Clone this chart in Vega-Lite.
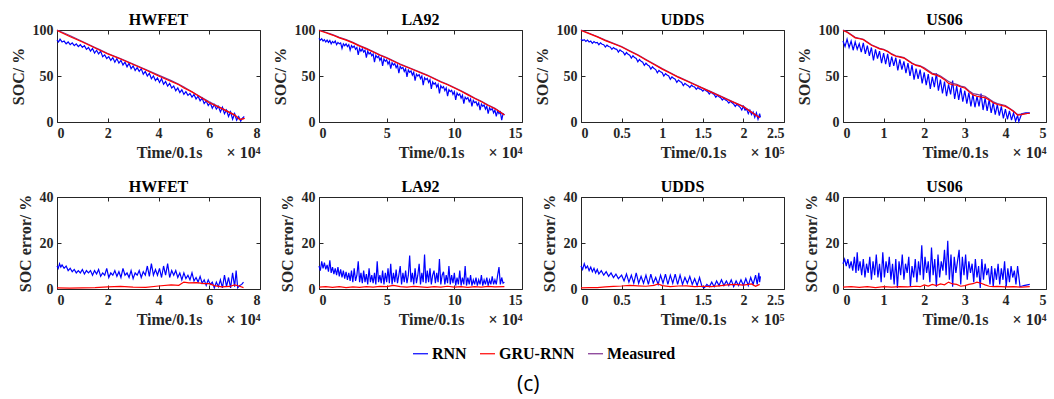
{
  "$schema": "https://vega.github.io/schema/vega-lite/v6.json",
  "padding": {"left": 9, "top": 11, "right": 5, "bottom": 5},
  "background": "white",
  "config": {
    "font": "Liberation Serif",
    "view": {"stroke": "#262626", "strokeWidth": 1},
    "axis": {"grid": false, "domain": false, "tickColor": "#262626", "tickSize": -4, "labelPadding": 8, "labelFont": "Liberation Serif", "labelFontWeight": "bold", "labelFontSize": 14, "labelColor": "#262626", "titleFont": "Liberation Serif", "titleFontWeight": "bold", "titleFontSize": 16, "titleColor": "#262626", "format": ".2~f"},
    "axisX": {"titleAnchor": "end", "titlePadding": 4},
    "axisY": {"titlePadding": 6},
    "title": {"font": "Liberation Serif", "fontSize": 16, "fontWeight": "bold", "color": "black", "offset": -5},
    "line": {"strokeWidth": 1.2},
    "legend": {"orient": "none", "legendX": 355, "legendY": 315, "direction": "horizontal", "title": null, "symbolType": "stroke", "symbolSize": 225, "symbolStrokeWidth": 1.5, "labelFont": "Liberation Serif", "labelFontSize": 16, "labelFontWeight": "bold", "labelColor": "black", "columnPadding": 10, "labelOffset": 3}
  },
  "title": {"text": "(c)", "orient": "bottom", "anchor": "middle", "font": "Open Sans", "fontWeight": "normal", "fontSize": 21, "color": "black", "offset": 12, "frame": "bounds"},
  "datasets": {
    "soc": [
      {"p":"HWFET","s":"RNN","x":0,"y":89},{"p":"HWFET","s":"RNN","x":0.06,"y":87},{"p":"HWFET","s":"RNN","x":0.12,"y":90},{"p":"HWFET","s":"RNN","x":0.2,"y":87},{"p":"HWFET","s":"RNN","x":0.28,"y":88},{"p":"HWFET","s":"RNN","x":0.36,"y":85},{"p":"HWFET","s":"RNN","x":0.44,"y":87},{"p":"HWFET","s":"RNN","x":0.52,"y":84},{"p":"HWFET","s":"RNN","x":0.6,"y":86},{"p":"HWFET","s":"RNN","x":0.68,"y":83},{"p":"HWFET","s":"RNN","x":0.76,"y":85},{"p":"HWFET","s":"RNN","x":0.84,"y":82},{"p":"HWFET","s":"RNN","x":0.92,"y":84},{"p":"HWFET","s":"RNN","x":1.0,"y":81},{"p":"HWFET","s":"RNN","x":1.08,"y":83},{"p":"HWFET","s":"RNN","x":1.16,"y":79},{"p":"HWFET","s":"RNN","x":1.24,"y":81},{"p":"HWFET","s":"RNN","x":1.32,"y":77},{"p":"HWFET","s":"RNN","x":1.4,"y":80},{"p":"HWFET","s":"RNN","x":1.48,"y":75},{"p":"HWFET","s":"RNN","x":1.56,"y":78},{"p":"HWFET","s":"RNN","x":1.64,"y":74},{"p":"HWFET","s":"RNN","x":1.72,"y":77},{"p":"HWFET","s":"RNN","x":1.8,"y":71},{"p":"HWFET","s":"RNN","x":1.88,"y":73},{"p":"HWFET","s":"RNN","x":1.96,"y":69},{"p":"HWFET","s":"RNN","x":2.04,"y":71},{"p":"HWFET","s":"RNN","x":2.12,"y":67},{"p":"HWFET","s":"RNN","x":2.2,"y":70},{"p":"HWFET","s":"RNN","x":2.28,"y":65},{"p":"HWFET","s":"RNN","x":2.36,"y":69},{"p":"HWFET","s":"RNN","x":2.44,"y":64},{"p":"HWFET","s":"RNN","x":2.52,"y":67},{"p":"HWFET","s":"RNN","x":2.6,"y":62},{"p":"HWFET","s":"RNN","x":2.68,"y":65},{"p":"HWFET","s":"RNN","x":2.76,"y":60},{"p":"HWFET","s":"RNN","x":2.84,"y":64},{"p":"HWFET","s":"RNN","x":2.92,"y":58},{"p":"HWFET","s":"RNN","x":3.0,"y":61},{"p":"HWFET","s":"RNN","x":3.08,"y":56},{"p":"HWFET","s":"RNN","x":3.16,"y":59},{"p":"HWFET","s":"RNN","x":3.24,"y":55},{"p":"HWFET","s":"RNN","x":3.32,"y":58},{"p":"HWFET","s":"RNN","x":3.4,"y":52},{"p":"HWFET","s":"RNN","x":3.48,"y":55},{"p":"HWFET","s":"RNN","x":3.56,"y":50},{"p":"HWFET","s":"RNN","x":3.64,"y":53},{"p":"HWFET","s":"RNN","x":3.72,"y":47},{"p":"HWFET","s":"RNN","x":3.8,"y":50},{"p":"HWFET","s":"RNN","x":3.88,"y":45},{"p":"HWFET","s":"RNN","x":3.96,"y":48},{"p":"HWFET","s":"RNN","x":4.04,"y":43},{"p":"HWFET","s":"RNN","x":4.12,"y":47},{"p":"HWFET","s":"RNN","x":4.2,"y":41},{"p":"HWFET","s":"RNN","x":4.28,"y":44},{"p":"HWFET","s":"RNN","x":4.36,"y":39},{"p":"HWFET","s":"RNN","x":4.44,"y":42},{"p":"HWFET","s":"RNN","x":4.52,"y":37},{"p":"HWFET","s":"RNN","x":4.6,"y":39},{"p":"HWFET","s":"RNN","x":4.68,"y":34},{"p":"HWFET","s":"RNN","x":4.76,"y":37},{"p":"HWFET","s":"RNN","x":4.84,"y":32},{"p":"HWFET","s":"RNN","x":4.92,"y":35},{"p":"HWFET","s":"RNN","x":5.0,"y":30},{"p":"HWFET","s":"RNN","x":5.08,"y":33},{"p":"HWFET","s":"RNN","x":5.16,"y":29},{"p":"HWFET","s":"RNN","x":5.24,"y":31},{"p":"HWFET","s":"RNN","x":5.32,"y":27},{"p":"HWFET","s":"RNN","x":5.4,"y":30},{"p":"HWFET","s":"RNN","x":5.48,"y":25},{"p":"HWFET","s":"RNN","x":5.56,"y":28},{"p":"HWFET","s":"RNN","x":5.64,"y":23},{"p":"HWFET","s":"RNN","x":5.72,"y":26},{"p":"HWFET","s":"RNN","x":5.8,"y":20},{"p":"HWFET","s":"RNN","x":5.88,"y":23},{"p":"HWFET","s":"RNN","x":5.96,"y":18},{"p":"HWFET","s":"RNN","x":6.04,"y":21},{"p":"HWFET","s":"RNN","x":6.12,"y":15},{"p":"HWFET","s":"RNN","x":6.2,"y":19},{"p":"HWFET","s":"RNN","x":6.28,"y":14},{"p":"HWFET","s":"RNN","x":6.36,"y":17},{"p":"HWFET","s":"RNN","x":6.44,"y":11},{"p":"HWFET","s":"RNN","x":6.52,"y":16},{"p":"HWFET","s":"RNN","x":6.6,"y":9},{"p":"HWFET","s":"RNN","x":6.68,"y":13},{"p":"HWFET","s":"RNN","x":6.76,"y":6},{"p":"HWFET","s":"RNN","x":6.84,"y":11},{"p":"HWFET","s":"RNN","x":6.92,"y":3},{"p":"HWFET","s":"RNN","x":7.0,"y":9},{"p":"HWFET","s":"RNN","x":7.08,"y":2},{"p":"HWFET","s":"RNN","x":7.16,"y":6},{"p":"HWFET","s":"RNN","x":7.24,"y":1},{"p":"HWFET","s":"RNN","x":7.3,"y":4},{"p":"HWFET","s":"RNN","x":7.38,"y":6},
      {"p":"HWFET","s":"Measured","x":0,"y":100},{"p":"HWFET","s":"Measured","x":0.5,"y":94},{"p":"HWFET","s":"Measured","x":1,"y":87.5},{"p":"HWFET","s":"Measured","x":1.5,"y":81},{"p":"HWFET","s":"Measured","x":1.7,"y":78.5},{"p":"HWFET","s":"Measured","x":2,"y":74.5},{"p":"HWFET","s":"Measured","x":2.5,"y":69},{"p":"HWFET","s":"Measured","x":3,"y":63},{"p":"HWFET","s":"Measured","x":3.5,"y":57},{"p":"HWFET","s":"Measured","x":4,"y":51},{"p":"HWFET","s":"Measured","x":4.5,"y":45},{"p":"HWFET","s":"Measured","x":4.8,"y":41},{"p":"HWFET","s":"Measured","x":5,"y":38},{"p":"HWFET","s":"Measured","x":5.5,"y":30},{"p":"HWFET","s":"Measured","x":6,"y":22},{"p":"HWFET","s":"Measured","x":6.5,"y":15},{"p":"HWFET","s":"Measured","x":7,"y":8},{"p":"HWFET","s":"Measured","x":7.2,"y":3},{"p":"HWFET","s":"Measured","x":7.35,"y":3.5},
      {"p":"HWFET","s":"GRU-RNN","x":0,"y":99.5},{"p":"HWFET","s":"GRU-RNN","x":0.5,"y":93},{"p":"HWFET","s":"GRU-RNN","x":1,"y":87},{"p":"HWFET","s":"GRU-RNN","x":1.5,"y":80.5},{"p":"HWFET","s":"GRU-RNN","x":2,"y":74},{"p":"HWFET","s":"GRU-RNN","x":2.5,"y":68.5},{"p":"HWFET","s":"GRU-RNN","x":3,"y":62.5},{"p":"HWFET","s":"GRU-RNN","x":3.5,"y":56.5},{"p":"HWFET","s":"GRU-RNN","x":4,"y":50},{"p":"HWFET","s":"GRU-RNN","x":4.5,"y":44},{"p":"HWFET","s":"GRU-RNN","x":4.8,"y":40.5},{"p":"HWFET","s":"GRU-RNN","x":5,"y":37},{"p":"HWFET","s":"GRU-RNN","x":5.3,"y":33},{"p":"HWFET","s":"GRU-RNN","x":5.5,"y":29.5},{"p":"HWFET","s":"GRU-RNN","x":6,"y":21},{"p":"HWFET","s":"GRU-RNN","x":6.5,"y":14.5},{"p":"HWFET","s":"GRU-RNN","x":7,"y":7.5},{"p":"HWFET","s":"GRU-RNN","x":7.2,"y":2.5},{"p":"HWFET","s":"GRU-RNN","x":7.4,"y":4},

      {"p":"LA92","s":"RNN","x":0,"y":91},{"p":"LA92","s":"RNN","x":0.1,"y":89},{"p":"LA92","s":"RNN","x":0.2,"y":90.5},{"p":"LA92","s":"RNN","x":0.3,"y":88},{"p":"LA92","s":"RNN","x":0.4,"y":89.5},{"p":"LA92","s":"RNN","x":0.5,"y":87},{"p":"LA92","s":"RNN","x":0.6,"y":89},{"p":"LA92","s":"RNN","x":0.7,"y":86.5},{"p":"LA92","s":"RNN","x":0.8,"y":88.5},{"p":"LA92","s":"RNN","x":0.9,"y":85},{"p":"LA92","s":"RNN","x":1.0,"y":87.5},{"p":"LA92","s":"RNN","x":1.1,"y":86},{"p":"LA92","s":"RNN","x":1.2,"y":88},{"p":"LA92","s":"RNN","x":1.3,"y":84},{"p":"LA92","s":"RNN","x":1.4,"y":86.5},{"p":"LA92","s":"RNN","x":1.5,"y":85},{"p":"LA92","s":"RNN","x":1.6,"y":86},{"p":"LA92","s":"RNN","x":1.7,"y":80},{"p":"LA92","s":"RNN","x":1.8,"y":85},{"p":"LA92","s":"RNN","x":1.9,"y":83},{"p":"LA92","s":"RNN","x":2.0,"y":85},{"p":"LA92","s":"RNN","x":2.1,"y":82},{"p":"LA92","s":"RNN","x":2.2,"y":84},{"p":"LA92","s":"RNN","x":2.3,"y":78},{"p":"LA92","s":"RNN","x":2.4,"y":83},{"p":"LA92","s":"RNN","x":2.5,"y":81},{"p":"LA92","s":"RNN","x":2.6,"y":82.5},{"p":"LA92","s":"RNN","x":2.7,"y":79},{"p":"LA92","s":"RNN","x":2.8,"y":81},{"p":"LA92","s":"RNN","x":2.9,"y":73},{"p":"LA92","s":"RNN","x":3.0,"y":80},{"p":"LA92","s":"RNN","x":3.1,"y":77},{"p":"LA92","s":"RNN","x":3.2,"y":79.5},{"p":"LA92","s":"RNN","x":3.3,"y":76},{"p":"LA92","s":"RNN","x":3.4,"y":78},{"p":"LA92","s":"RNN","x":3.5,"y":70},{"p":"LA92","s":"RNN","x":3.6,"y":77},{"p":"LA92","s":"RNN","x":3.7,"y":74},{"p":"LA92","s":"RNN","x":3.8,"y":75.5},{"p":"LA92","s":"RNN","x":3.9,"y":72},{"p":"LA92","s":"RNN","x":4.0,"y":74},{"p":"LA92","s":"RNN","x":4.1,"y":65},{"p":"LA92","s":"RNN","x":4.2,"y":72.5},{"p":"LA92","s":"RNN","x":4.3,"y":70},{"p":"LA92","s":"RNN","x":4.4,"y":71.5},{"p":"LA92","s":"RNN","x":4.5,"y":67},{"p":"LA92","s":"RNN","x":4.6,"y":70},{"p":"LA92","s":"RNN","x":4.7,"y":61},{"p":"LA92","s":"RNN","x":4.8,"y":68.5},{"p":"LA92","s":"RNN","x":4.9,"y":66},{"p":"LA92","s":"RNN","x":5.0,"y":67.5},{"p":"LA92","s":"RNN","x":5.1,"y":63},{"p":"LA92","s":"RNN","x":5.2,"y":66},{"p":"LA92","s":"RNN","x":5.3,"y":58},{"p":"LA92","s":"RNN","x":5.4,"y":64.5},{"p":"LA92","s":"RNN","x":5.5,"y":62},{"p":"LA92","s":"RNN","x":5.6,"y":63.5},{"p":"LA92","s":"RNN","x":5.7,"y":59},{"p":"LA92","s":"RNN","x":5.8,"y":62},{"p":"LA92","s":"RNN","x":5.9,"y":53},{"p":"LA92","s":"RNN","x":6.0,"y":60.5},{"p":"LA92","s":"RNN","x":6.1,"y":58},{"p":"LA92","s":"RNN","x":6.2,"y":59.5},{"p":"LA92","s":"RNN","x":6.3,"y":55},{"p":"LA92","s":"RNN","x":6.4,"y":58},{"p":"LA92","s":"RNN","x":6.5,"y":49},{"p":"LA92","s":"RNN","x":6.6,"y":56.5},{"p":"LA92","s":"RNN","x":6.7,"y":54},{"p":"LA92","s":"RNN","x":6.8,"y":55.5},{"p":"LA92","s":"RNN","x":6.9,"y":51},{"p":"LA92","s":"RNN","x":7.0,"y":54},{"p":"LA92","s":"RNN","x":7.1,"y":45},{"p":"LA92","s":"RNN","x":7.2,"y":52},{"p":"LA92","s":"RNN","x":7.3,"y":50},{"p":"LA92","s":"RNN","x":7.4,"y":51.5},{"p":"LA92","s":"RNN","x":7.5,"y":47},{"p":"LA92","s":"RNN","x":7.6,"y":50},{"p":"LA92","s":"RNN","x":7.7,"y":40},{"p":"LA92","s":"RNN","x":7.8,"y":48},{"p":"LA92","s":"RNN","x":7.9,"y":46},{"p":"LA92","s":"RNN","x":8.0,"y":47.5},{"p":"LA92","s":"RNN","x":8.1,"y":43},{"p":"LA92","s":"RNN","x":8.2,"y":46},{"p":"LA92","s":"RNN","x":8.3,"y":36},{"p":"LA92","s":"RNN","x":8.4,"y":43.5},{"p":"LA92","s":"RNN","x":8.5,"y":41},{"p":"LA92","s":"RNN","x":8.6,"y":42.5},{"p":"LA92","s":"RNN","x":8.7,"y":38},{"p":"LA92","s":"RNN","x":8.8,"y":41},{"p":"LA92","s":"RNN","x":8.9,"y":31},{"p":"LA92","s":"RNN","x":9.0,"y":39.5},{"p":"LA92","s":"RNN","x":9.1,"y":37},{"p":"LA92","s":"RNN","x":9.2,"y":38.5},{"p":"LA92","s":"RNN","x":9.3,"y":34},{"p":"LA92","s":"RNN","x":9.4,"y":37},{"p":"LA92","s":"RNN","x":9.5,"y":28},{"p":"LA92","s":"RNN","x":9.6,"y":35},{"p":"LA92","s":"RNN","x":9.7,"y":33},{"p":"LA92","s":"RNN","x":9.8,"y":34.5},{"p":"LA92","s":"RNN","x":9.9,"y":30},{"p":"LA92","s":"RNN","x":10.0,"y":33},{"p":"LA92","s":"RNN","x":10.1,"y":24},{"p":"LA92","s":"RNN","x":10.2,"y":31.5},{"p":"LA92","s":"RNN","x":10.3,"y":29},{"p":"LA92","s":"RNN","x":10.4,"y":30.5},{"p":"LA92","s":"RNN","x":10.5,"y":26},{"p":"LA92","s":"RNN","x":10.6,"y":29},{"p":"LA92","s":"RNN","x":10.7,"y":20},{"p":"LA92","s":"RNN","x":10.8,"y":27},{"p":"LA92","s":"RNN","x":10.9,"y":25},{"p":"LA92","s":"RNN","x":11.0,"y":26.5},{"p":"LA92","s":"RNN","x":11.1,"y":22},{"p":"LA92","s":"RNN","x":11.2,"y":25},{"p":"LA92","s":"RNN","x":11.3,"y":17},{"p":"LA92","s":"RNN","x":11.4,"y":23.5},{"p":"LA92","s":"RNN","x":11.5,"y":21},{"p":"LA92","s":"RNN","x":11.6,"y":22},{"p":"LA92","s":"RNN","x":11.7,"y":18},{"p":"LA92","s":"RNN","x":11.8,"y":21},{"p":"LA92","s":"RNN","x":11.9,"y":13},{"p":"LA92","s":"RNN","x":12.0,"y":19.5},{"p":"LA92","s":"RNN","x":12.1,"y":17},{"p":"LA92","s":"RNN","x":12.2,"y":18.5},{"p":"LA92","s":"RNN","x":12.3,"y":14},{"p":"LA92","s":"RNN","x":12.4,"y":17},{"p":"LA92","s":"RNN","x":12.5,"y":9},{"p":"LA92","s":"RNN","x":12.6,"y":15.5},{"p":"LA92","s":"RNN","x":12.7,"y":13},{"p":"LA92","s":"RNN","x":12.8,"y":14.5},{"p":"LA92","s":"RNN","x":12.9,"y":10},{"p":"LA92","s":"RNN","x":13.0,"y":13},{"p":"LA92","s":"RNN","x":13.1,"y":6},{"p":"LA92","s":"RNN","x":13.2,"y":12},{"p":"LA92","s":"RNN","x":13.3,"y":9},{"p":"LA92","s":"RNN","x":13.4,"y":11},{"p":"LA92","s":"RNN","x":13.5,"y":2},{"p":"LA92","s":"RNN","x":13.6,"y":9},{"p":"LA92","s":"RNN","x":13.7,"y":8},
      {"p":"LA92","s":"Measured","x":0,"y":100},{"p":"LA92","s":"Measured","x":0.5,"y":97.5},{"p":"LA92","s":"Measured","x":1,"y":95},{"p":"LA92","s":"Measured","x":1.5,"y":92},{"p":"LA92","s":"Measured","x":2,"y":89.5},{"p":"LA92","s":"Measured","x":2.5,"y":86.5},{"p":"LA92","s":"Measured","x":3,"y":83},{"p":"LA92","s":"Measured","x":3.5,"y":80},{"p":"LA92","s":"Measured","x":4,"y":76.5},{"p":"LA92","s":"Measured","x":4.5,"y":73},{"p":"LA92","s":"Measured","x":5,"y":70},{"p":"LA92","s":"Measured","x":5.5,"y":66.5},{"p":"LA92","s":"Measured","x":6,"y":63},{"p":"LA92","s":"Measured","x":6.5,"y":60},{"p":"LA92","s":"Measured","x":7,"y":57},{"p":"LA92","s":"Measured","x":7.5,"y":54},{"p":"LA92","s":"Measured","x":8,"y":51},{"p":"LA92","s":"Measured","x":8.5,"y":47.5},{"p":"LA92","s":"Measured","x":9,"y":44},{"p":"LA92","s":"Measured","x":9.5,"y":41},{"p":"LA92","s":"Measured","x":10,"y":37.5},{"p":"LA92","s":"Measured","x":10.5,"y":34},{"p":"LA92","s":"Measured","x":11,"y":30},{"p":"LA92","s":"Measured","x":11.5,"y":26},{"p":"LA92","s":"Measured","x":12,"y":22.5},{"p":"LA92","s":"Measured","x":12.5,"y":18.5},{"p":"LA92","s":"Measured","x":13,"y":15},{"p":"LA92","s":"Measured","x":13.4,"y":11},{"p":"LA92","s":"Measured","x":13.7,"y":8},
      {"p":"LA92","s":"GRU-RNN","x":0,"y":99.5},{"p":"LA92","s":"GRU-RNN","x":0.5,"y":97},{"p":"LA92","s":"GRU-RNN","x":1,"y":94.5},{"p":"LA92","s":"GRU-RNN","x":1.5,"y":91.5},{"p":"LA92","s":"GRU-RNN","x":2,"y":89},{"p":"LA92","s":"GRU-RNN","x":2.5,"y":86},{"p":"LA92","s":"GRU-RNN","x":3,"y":82.5},{"p":"LA92","s":"GRU-RNN","x":3.5,"y":79.5},{"p":"LA92","s":"GRU-RNN","x":4,"y":76},{"p":"LA92","s":"GRU-RNN","x":4.5,"y":72.5},{"p":"LA92","s":"GRU-RNN","x":5,"y":69.5},{"p":"LA92","s":"GRU-RNN","x":5.5,"y":66},{"p":"LA92","s":"GRU-RNN","x":6,"y":62.5},{"p":"LA92","s":"GRU-RNN","x":6.5,"y":59.5},{"p":"LA92","s":"GRU-RNN","x":7,"y":56.5},{"p":"LA92","s":"GRU-RNN","x":7.5,"y":53.5},{"p":"LA92","s":"GRU-RNN","x":8,"y":50.5},{"p":"LA92","s":"GRU-RNN","x":8.5,"y":47},{"p":"LA92","s":"GRU-RNN","x":9,"y":43.5},{"p":"LA92","s":"GRU-RNN","x":9.5,"y":40.5},{"p":"LA92","s":"GRU-RNN","x":10,"y":37},{"p":"LA92","s":"GRU-RNN","x":10.5,"y":33.5},{"p":"LA92","s":"GRU-RNN","x":11,"y":29.5},{"p":"LA92","s":"GRU-RNN","x":11.5,"y":25.5},{"p":"LA92","s":"GRU-RNN","x":12,"y":22},{"p":"LA92","s":"GRU-RNN","x":12.5,"y":18},{"p":"LA92","s":"GRU-RNN","x":13,"y":14.5},{"p":"LA92","s":"GRU-RNN","x":13.4,"y":10.5},{"p":"LA92","s":"GRU-RNN","x":13.7,"y":7.5},

      {"p":"UDDS","s":"RNN","x":0,"y":90},{"p":"UDDS","s":"RNN","x":0.02,"y":88.5},{"p":"UDDS","s":"RNN","x":0.04,"y":89.5},{"p":"UDDS","s":"RNN","x":0.06,"y":87.5},{"p":"UDDS","s":"RNN","x":0.08,"y":89},{"p":"UDDS","s":"RNN","x":0.1,"y":87},{"p":"UDDS","s":"RNN","x":0.12,"y":88},{"p":"UDDS","s":"RNN","x":0.14,"y":85.5},{"p":"UDDS","s":"RNN","x":0.16,"y":87.5},{"p":"UDDS","s":"RNN","x":0.18,"y":86},{"p":"UDDS","s":"RNN","x":0.2,"y":86.5},{"p":"UDDS","s":"RNN","x":0.22,"y":84},{"p":"UDDS","s":"RNN","x":0.24,"y":86},{"p":"UDDS","s":"RNN","x":0.26,"y":84.5},{"p":"UDDS","s":"RNN","x":0.28,"y":84},{"p":"UDDS","s":"RNN","x":0.3,"y":81.5},{"p":"UDDS","s":"RNN","x":0.32,"y":83.5},{"p":"UDDS","s":"RNN","x":0.34,"y":82},{"p":"UDDS","s":"RNN","x":0.36,"y":81.5},{"p":"UDDS","s":"RNN","x":0.38,"y":79},{"p":"UDDS","s":"RNN","x":0.4,"y":81},{"p":"UDDS","s":"RNN","x":0.42,"y":79.5},{"p":"UDDS","s":"RNN","x":0.44,"y":79},{"p":"UDDS","s":"RNN","x":0.46,"y":76},{"p":"UDDS","s":"RNN","x":0.48,"y":78.5},{"p":"UDDS","s":"RNN","x":0.5,"y":77},{"p":"UDDS","s":"RNN","x":0.52,"y":76},{"p":"UDDS","s":"RNN","x":0.54,"y":73},{"p":"UDDS","s":"RNN","x":0.56,"y":75.5},{"p":"UDDS","s":"RNN","x":0.58,"y":73.5},{"p":"UDDS","s":"RNN","x":0.6,"y":72.5},{"p":"UDDS","s":"RNN","x":0.62,"y":69.5},{"p":"UDDS","s":"RNN","x":0.64,"y":72},{"p":"UDDS","s":"RNN","x":0.66,"y":70},{"p":"UDDS","s":"RNN","x":0.68,"y":69},{"p":"UDDS","s":"RNN","x":0.7,"y":65.5},{"p":"UDDS","s":"RNN","x":0.72,"y":68},{"p":"UDDS","s":"RNN","x":0.74,"y":66},{"p":"UDDS","s":"RNN","x":0.76,"y":65},{"p":"UDDS","s":"RNN","x":0.78,"y":61.5},{"p":"UDDS","s":"RNN","x":0.8,"y":64},{"p":"UDDS","s":"RNN","x":0.82,"y":62},{"p":"UDDS","s":"RNN","x":0.84,"y":61},{"p":"UDDS","s":"RNN","x":0.86,"y":57.5},{"p":"UDDS","s":"RNN","x":0.88,"y":60},{"p":"UDDS","s":"RNN","x":0.9,"y":58},{"p":"UDDS","s":"RNN","x":0.92,"y":57},{"p":"UDDS","s":"RNN","x":0.94,"y":53.5},{"p":"UDDS","s":"RNN","x":0.96,"y":56},{"p":"UDDS","s":"RNN","x":0.98,"y":54.5},{"p":"UDDS","s":"RNN","x":1.0,"y":53.5},{"p":"UDDS","s":"RNN","x":1.02,"y":50},{"p":"UDDS","s":"RNN","x":1.04,"y":52.5},{"p":"UDDS","s":"RNN","x":1.06,"y":51},{"p":"UDDS","s":"RNN","x":1.08,"y":50},{"p":"UDDS","s":"RNN","x":1.1,"y":46.5},{"p":"UDDS","s":"RNN","x":1.12,"y":49},{"p":"UDDS","s":"RNN","x":1.14,"y":47.5},{"p":"UDDS","s":"RNN","x":1.16,"y":46.5},{"p":"UDDS","s":"RNN","x":1.18,"y":43},{"p":"UDDS","s":"RNN","x":1.2,"y":45.5},{"p":"UDDS","s":"RNN","x":1.22,"y":44},{"p":"UDDS","s":"RNN","x":1.24,"y":43},{"p":"UDDS","s":"RNN","x":1.26,"y":39.5},{"p":"UDDS","s":"RNN","x":1.28,"y":42},{"p":"UDDS","s":"RNN","x":1.3,"y":40.5},{"p":"UDDS","s":"RNN","x":1.32,"y":39.5},{"p":"UDDS","s":"RNN","x":1.34,"y":37.5},{"p":"UDDS","s":"RNN","x":1.36,"y":40},{"p":"UDDS","s":"RNN","x":1.38,"y":38.5},{"p":"UDDS","s":"RNN","x":1.4,"y":38},{"p":"UDDS","s":"RNN","x":1.42,"y":35.5},{"p":"UDDS","s":"RNN","x":1.44,"y":37.5},{"p":"UDDS","s":"RNN","x":1.46,"y":36},{"p":"UDDS","s":"RNN","x":1.48,"y":35.5},{"p":"UDDS","s":"RNN","x":1.5,"y":33.5},{"p":"UDDS","s":"RNN","x":1.52,"y":35.5},{"p":"UDDS","s":"RNN","x":1.54,"y":34},{"p":"UDDS","s":"RNN","x":1.56,"y":33},{"p":"UDDS","s":"RNN","x":1.58,"y":30.5},{"p":"UDDS","s":"RNN","x":1.6,"y":32.5},{"p":"UDDS","s":"RNN","x":1.62,"y":31},{"p":"UDDS","s":"RNN","x":1.64,"y":30},{"p":"UDDS","s":"RNN","x":1.66,"y":27},{"p":"UDDS","s":"RNN","x":1.68,"y":29},{"p":"UDDS","s":"RNN","x":1.7,"y":27.5},{"p":"UDDS","s":"RNN","x":1.72,"y":26.5},{"p":"UDDS","s":"RNN","x":1.74,"y":24},{"p":"UDDS","s":"RNN","x":1.76,"y":26},{"p":"UDDS","s":"RNN","x":1.78,"y":24},{"p":"UDDS","s":"RNN","x":1.8,"y":23},{"p":"UDDS","s":"RNN","x":1.82,"y":20.5},{"p":"UDDS","s":"RNN","x":1.84,"y":22.5},{"p":"UDDS","s":"RNN","x":1.86,"y":21},{"p":"UDDS","s":"RNN","x":1.88,"y":19.5},{"p":"UDDS","s":"RNN","x":1.9,"y":17},{"p":"UDDS","s":"RNN","x":1.92,"y":19.5},{"p":"UDDS","s":"RNN","x":1.94,"y":17.5},{"p":"UDDS","s":"RNN","x":1.96,"y":16},{"p":"UDDS","s":"RNN","x":1.98,"y":13},{"p":"UDDS","s":"RNN","x":2.0,"y":17},{"p":"UDDS","s":"RNN","x":2.02,"y":13},{"p":"UDDS","s":"RNN","x":2.04,"y":14},{"p":"UDDS","s":"RNN","x":2.06,"y":9},{"p":"UDDS","s":"RNN","x":2.08,"y":13},{"p":"UDDS","s":"RNN","x":2.1,"y":8},{"p":"UDDS","s":"RNN","x":2.12,"y":11},{"p":"UDDS","s":"RNN","x":2.14,"y":5},{"p":"UDDS","s":"RNN","x":2.16,"y":10},{"p":"UDDS","s":"RNN","x":2.18,"y":3},{"p":"UDDS","s":"RNN","x":2.2,"y":9},{"p":"UDDS","s":"RNN","x":2.21,"y":5},
      {"p":"UDDS","s":"Measured","x":0,"y":100},{"p":"UDDS","s":"Measured","x":0.1,"y":96.5},{"p":"UDDS","s":"Measured","x":0.2,"y":93},{"p":"UDDS","s":"Measured","x":0.3,"y":89},{"p":"UDDS","s":"Measured","x":0.4,"y":85.5},{"p":"UDDS","s":"Measured","x":0.5,"y":82},{"p":"UDDS","s":"Measured","x":0.6,"y":77.5},{"p":"UDDS","s":"Measured","x":0.7,"y":73},{"p":"UDDS","s":"Measured","x":0.8,"y":68},{"p":"UDDS","s":"Measured","x":0.9,"y":63},{"p":"UDDS","s":"Measured","x":1.0,"y":58},{"p":"UDDS","s":"Measured","x":1.1,"y":53.5},{"p":"UDDS","s":"Measured","x":1.2,"y":49},{"p":"UDDS","s":"Measured","x":1.3,"y":45},{"p":"UDDS","s":"Measured","x":1.4,"y":41},{"p":"UDDS","s":"Measured","x":1.5,"y":37},{"p":"UDDS","s":"Measured","x":1.6,"y":33},{"p":"UDDS","s":"Measured","x":1.7,"y":29},{"p":"UDDS","s":"Measured","x":1.8,"y":25},{"p":"UDDS","s":"Measured","x":1.9,"y":21},{"p":"UDDS","s":"Measured","x":2.0,"y":17},{"p":"UDDS","s":"Measured","x":2.1,"y":11},{"p":"UDDS","s":"Measured","x":2.2,"y":5},
      {"p":"UDDS","s":"GRU-RNN","x":0,"y":99.5},{"p":"UDDS","s":"GRU-RNN","x":0.1,"y":96},{"p":"UDDS","s":"GRU-RNN","x":0.2,"y":92.5},{"p":"UDDS","s":"GRU-RNN","x":0.3,"y":88.5},{"p":"UDDS","s":"GRU-RNN","x":0.4,"y":85},{"p":"UDDS","s":"GRU-RNN","x":0.5,"y":81.5},{"p":"UDDS","s":"GRU-RNN","x":0.6,"y":77},{"p":"UDDS","s":"GRU-RNN","x":0.7,"y":72.5},{"p":"UDDS","s":"GRU-RNN","x":0.8,"y":67.5},{"p":"UDDS","s":"GRU-RNN","x":0.9,"y":62.5},{"p":"UDDS","s":"GRU-RNN","x":1.0,"y":57.5},{"p":"UDDS","s":"GRU-RNN","x":1.1,"y":53},{"p":"UDDS","s":"GRU-RNN","x":1.2,"y":48.5},{"p":"UDDS","s":"GRU-RNN","x":1.3,"y":44.5},{"p":"UDDS","s":"GRU-RNN","x":1.4,"y":40.5},{"p":"UDDS","s":"GRU-RNN","x":1.5,"y":36.5},{"p":"UDDS","s":"GRU-RNN","x":1.6,"y":32.5},{"p":"UDDS","s":"GRU-RNN","x":1.7,"y":28.5},{"p":"UDDS","s":"GRU-RNN","x":1.8,"y":24.5},{"p":"UDDS","s":"GRU-RNN","x":1.9,"y":20.5},{"p":"UDDS","s":"GRU-RNN","x":2.0,"y":16.5},{"p":"UDDS","s":"GRU-RNN","x":2.1,"y":10.5},{"p":"UDDS","s":"GRU-RNN","x":2.2,"y":4.5},

      {"p":"US06","s":"RNN","x":0,"y":88},{"p":"US06","s":"RNN","x":0.05,"y":82},{"p":"US06","s":"RNN","x":0.1,"y":90},{"p":"US06","s":"RNN","x":0.15,"y":81},{"p":"US06","s":"RNN","x":0.2,"y":88},{"p":"US06","s":"RNN","x":0.25,"y":78},{"p":"US06","s":"RNN","x":0.3,"y":87},{"p":"US06","s":"RNN","x":0.35,"y":79},{"p":"US06","s":"RNN","x":0.4,"y":85},{"p":"US06","s":"RNN","x":0.45,"y":76},{"p":"US06","s":"RNN","x":0.5,"y":86},{"p":"US06","s":"RNN","x":0.55,"y":74},{"p":"US06","s":"RNN","x":0.6,"y":83},{"p":"US06","s":"RNN","x":0.65,"y":72},{"p":"US06","s":"RNN","x":0.7,"y":81},{"p":"US06","s":"RNN","x":0.75,"y":67},{"p":"US06","s":"RNN","x":0.8,"y":79},{"p":"US06","s":"RNN","x":0.85,"y":69},{"p":"US06","s":"RNN","x":0.9,"y":77},{"p":"US06","s":"RNN","x":0.95,"y":64},{"p":"US06","s":"RNN","x":1.0,"y":75},{"p":"US06","s":"RNN","x":1.05,"y":63},{"p":"US06","s":"RNN","x":1.1,"y":74},{"p":"US06","s":"RNN","x":1.15,"y":60},{"p":"US06","s":"RNN","x":1.2,"y":71},{"p":"US06","s":"RNN","x":1.25,"y":61},{"p":"US06","s":"RNN","x":1.3,"y":70},{"p":"US06","s":"RNN","x":1.35,"y":56},{"p":"US06","s":"RNN","x":1.4,"y":68},{"p":"US06","s":"RNN","x":1.45,"y":57},{"p":"US06","s":"RNN","x":1.5,"y":66},{"p":"US06","s":"RNN","x":1.55,"y":53},{"p":"US06","s":"RNN","x":1.6,"y":64},{"p":"US06","s":"RNN","x":1.65,"y":50},{"p":"US06","s":"RNN","x":1.7,"y":62},{"p":"US06","s":"RNN","x":1.75,"y":46},{"p":"US06","s":"RNN","x":1.8,"y":58},{"p":"US06","s":"RNN","x":1.85,"y":47},{"p":"US06","s":"RNN","x":1.9,"y":57},{"p":"US06","s":"RNN","x":1.95,"y":42},{"p":"US06","s":"RNN","x":2.0,"y":54},{"p":"US06","s":"RNN","x":2.05,"y":40},{"p":"US06","s":"RNN","x":2.1,"y":52},{"p":"US06","s":"RNN","x":2.15,"y":36},{"p":"US06","s":"RNN","x":2.2,"y":49},{"p":"US06","s":"RNN","x":2.25,"y":38},{"p":"US06","s":"RNN","x":2.3,"y":53},{"p":"US06","s":"RNN","x":2.35,"y":34},{"p":"US06","s":"RNN","x":2.4,"y":46},{"p":"US06","s":"RNN","x":2.45,"y":31},{"p":"US06","s":"RNN","x":2.5,"y":44},{"p":"US06","s":"RNN","x":2.55,"y":28},{"p":"US06","s":"RNN","x":2.6,"y":41},{"p":"US06","s":"RNN","x":2.65,"y":30},{"p":"US06","s":"RNN","x":2.7,"y":45},{"p":"US06","s":"RNN","x":2.75,"y":25},{"p":"US06","s":"RNN","x":2.8,"y":39},{"p":"US06","s":"RNN","x":2.85,"y":24},{"p":"US06","s":"RNN","x":2.9,"y":37},{"p":"US06","s":"RNN","x":2.95,"y":22},{"p":"US06","s":"RNN","x":3.0,"y":34},{"p":"US06","s":"RNN","x":3.05,"y":20},{"p":"US06","s":"RNN","x":3.1,"y":32},{"p":"US06","s":"RNN","x":3.15,"y":17},{"p":"US06","s":"RNN","x":3.2,"y":30},{"p":"US06","s":"RNN","x":3.25,"y":16},{"p":"US06","s":"RNN","x":3.3,"y":28},{"p":"US06","s":"RNN","x":3.35,"y":17},{"p":"US06","s":"RNN","x":3.4,"y":31},{"p":"US06","s":"RNN","x":3.45,"y":13},{"p":"US06","s":"RNN","x":3.5,"y":26},{"p":"US06","s":"RNN","x":3.55,"y":12},{"p":"US06","s":"RNN","x":3.6,"y":24},{"p":"US06","s":"RNN","x":3.65,"y":10},{"p":"US06","s":"RNN","x":3.7,"y":21},{"p":"US06","s":"RNN","x":3.75,"y":8},{"p":"US06","s":"RNN","x":3.8,"y":19},{"p":"US06","s":"RNN","x":3.85,"y":7},{"p":"US06","s":"RNN","x":3.9,"y":17},{"p":"US06","s":"RNN","x":3.95,"y":4},{"p":"US06","s":"RNN","x":4.0,"y":14},{"p":"US06","s":"RNN","x":4.05,"y":3},{"p":"US06","s":"RNN","x":4.1,"y":12},{"p":"US06","s":"RNN","x":4.15,"y":2},{"p":"US06","s":"RNN","x":4.2,"y":10},{"p":"US06","s":"RNN","x":4.25,"y":1},{"p":"US06","s":"RNN","x":4.3,"y":7},{"p":"US06","s":"RNN","x":4.33,"y":0.5},{"p":"US06","s":"RNN","x":4.36,"y":4},{"p":"US06","s":"RNN","x":4.4,"y":9},{"p":"US06","s":"RNN","x":4.5,"y":10},{"p":"US06","s":"RNN","x":4.6,"y":10},
      {"p":"US06","s":"Measured","x":0,"y":100},{"p":"US06","s":"Measured","x":0.1,"y":98},{"p":"US06","s":"Measured","x":0.2,"y":95},{"p":"US06","s":"Measured","x":0.3,"y":92},{"p":"US06","s":"Measured","x":0.4,"y":91},{"p":"US06","s":"Measured","x":0.5,"y":90},{"p":"US06","s":"Measured","x":0.6,"y":87},{"p":"US06","s":"Measured","x":0.7,"y":84},{"p":"US06","s":"Measured","x":0.8,"y":82},{"p":"US06","s":"Measured","x":0.9,"y":80},{"p":"US06","s":"Measured","x":1.0,"y":79},{"p":"US06","s":"Measured","x":1.1,"y":77},{"p":"US06","s":"Measured","x":1.2,"y":74},{"p":"US06","s":"Measured","x":1.3,"y":72},{"p":"US06","s":"Measured","x":1.4,"y":71},{"p":"US06","s":"Measured","x":1.5,"y":70},{"p":"US06","s":"Measured","x":1.6,"y":67},{"p":"US06","s":"Measured","x":1.7,"y":64},{"p":"US06","s":"Measured","x":1.8,"y":62},{"p":"US06","s":"Measured","x":1.9,"y":61},{"p":"US06","s":"Measured","x":2.0,"y":59},{"p":"US06","s":"Measured","x":2.1,"y":56},{"p":"US06","s":"Measured","x":2.2,"y":53},{"p":"US06","s":"Measured","x":2.3,"y":52},{"p":"US06","s":"Measured","x":2.4,"y":50},{"p":"US06","s":"Measured","x":2.5,"y":47},{"p":"US06","s":"Measured","x":2.6,"y":44},{"p":"US06","s":"Measured","x":2.7,"y":42},{"p":"US06","s":"Measured","x":2.8,"y":41},{"p":"US06","s":"Measured","x":2.9,"y":39},{"p":"US06","s":"Measured","x":3.0,"y":38},{"p":"US06","s":"Measured","x":3.1,"y":34},{"p":"US06","s":"Measured","x":3.2,"y":31},{"p":"US06","s":"Measured","x":3.3,"y":30},{"p":"US06","s":"Measured","x":3.4,"y":29},{"p":"US06","s":"Measured","x":3.5,"y":28},{"p":"US06","s":"Measured","x":3.6,"y":25},{"p":"US06","s":"Measured","x":3.7,"y":22},{"p":"US06","s":"Measured","x":3.8,"y":20},{"p":"US06","s":"Measured","x":3.9,"y":19},{"p":"US06","s":"Measured","x":4.0,"y":18},{"p":"US06","s":"Measured","x":4.1,"y":15},{"p":"US06","s":"Measured","x":4.2,"y":12},{"p":"US06","s":"Measured","x":4.3,"y":8},{"p":"US06","s":"Measured","x":4.4,"y":8.5},{"p":"US06","s":"Measured","x":4.5,"y":9},{"p":"US06","s":"Measured","x":4.6,"y":9.5},
      {"p":"US06","s":"GRU-RNN","x":0,"y":99.5},{"p":"US06","s":"GRU-RNN","x":0.1,"y":97.5},{"p":"US06","s":"GRU-RNN","x":0.2,"y":94.5},{"p":"US06","s":"GRU-RNN","x":0.3,"y":91.5},{"p":"US06","s":"GRU-RNN","x":0.4,"y":90.5},{"p":"US06","s":"GRU-RNN","x":0.5,"y":89.5},{"p":"US06","s":"GRU-RNN","x":0.6,"y":86.5},{"p":"US06","s":"GRU-RNN","x":0.7,"y":83.5},{"p":"US06","s":"GRU-RNN","x":0.8,"y":81.5},{"p":"US06","s":"GRU-RNN","x":0.9,"y":79.5},{"p":"US06","s":"GRU-RNN","x":1.0,"y":78.5},{"p":"US06","s":"GRU-RNN","x":1.1,"y":76.5},{"p":"US06","s":"GRU-RNN","x":1.2,"y":73.5},{"p":"US06","s":"GRU-RNN","x":1.3,"y":71.5},{"p":"US06","s":"GRU-RNN","x":1.4,"y":70.5},{"p":"US06","s":"GRU-RNN","x":1.5,"y":69.5},{"p":"US06","s":"GRU-RNN","x":1.6,"y":66.5},{"p":"US06","s":"GRU-RNN","x":1.7,"y":63.5},{"p":"US06","s":"GRU-RNN","x":1.8,"y":61.5},{"p":"US06","s":"GRU-RNN","x":1.9,"y":60.5},{"p":"US06","s":"GRU-RNN","x":2.0,"y":58},{"p":"US06","s":"GRU-RNN","x":2.1,"y":55},{"p":"US06","s":"GRU-RNN","x":2.2,"y":52},{"p":"US06","s":"GRU-RNN","x":2.3,"y":51},{"p":"US06","s":"GRU-RNN","x":2.4,"y":49},{"p":"US06","s":"GRU-RNN","x":2.5,"y":46},{"p":"US06","s":"GRU-RNN","x":2.6,"y":42},{"p":"US06","s":"GRU-RNN","x":2.7,"y":40.5},{"p":"US06","s":"GRU-RNN","x":2.8,"y":40},{"p":"US06","s":"GRU-RNN","x":2.9,"y":38},{"p":"US06","s":"GRU-RNN","x":3.0,"y":37},{"p":"US06","s":"GRU-RNN","x":3.1,"y":33},{"p":"US06","s":"GRU-RNN","x":3.2,"y":29.5},{"p":"US06","s":"GRU-RNN","x":3.3,"y":28},{"p":"US06","s":"GRU-RNN","x":3.4,"y":27},{"p":"US06","s":"GRU-RNN","x":3.5,"y":26.5},{"p":"US06","s":"GRU-RNN","x":3.6,"y":24},{"p":"US06","s":"GRU-RNN","x":3.7,"y":21},{"p":"US06","s":"GRU-RNN","x":3.8,"y":19},{"p":"US06","s":"GRU-RNN","x":3.9,"y":18},{"p":"US06","s":"GRU-RNN","x":4.0,"y":17},{"p":"US06","s":"GRU-RNN","x":4.1,"y":14.5},{"p":"US06","s":"GRU-RNN","x":4.2,"y":11.5},{"p":"US06","s":"GRU-RNN","x":4.3,"y":7.5},{"p":"US06","s":"GRU-RNN","x":4.4,"y":8},{"p":"US06","s":"GRU-RNN","x":4.5,"y":9},{"p":"US06","s":"GRU-RNN","x":4.6,"y":9.5}
    ],
    "err": [
      {"p":"HWFET","s":"RNN","x":0,"y":10},{"p":"HWFET","s":"RNN","x":0.05,"y":9},{"p":"HWFET","s":"RNN","x":0.1,"y":11},{"p":"HWFET","s":"RNN","x":0.15,"y":9.5},{"p":"HWFET","s":"RNN","x":0.2,"y":10.5},{"p":"HWFET","s":"RNN","x":0.28,"y":9},{"p":"HWFET","s":"RNN","x":0.36,"y":10},{"p":"HWFET","s":"RNN","x":0.44,"y":8},{"p":"HWFET","s":"RNN","x":0.52,"y":9},{"p":"HWFET","s":"RNN","x":0.6,"y":7.5},{"p":"HWFET","s":"RNN","x":0.68,"y":8.5},{"p":"HWFET","s":"RNN","x":0.76,"y":7},{"p":"HWFET","s":"RNN","x":0.84,"y":8},{"p":"HWFET","s":"RNN","x":0.92,"y":7},{"p":"HWFET","s":"RNN","x":1.0,"y":8.5},{"p":"HWFET","s":"RNN","x":1.08,"y":6.5},{"p":"HWFET","s":"RNN","x":1.16,"y":8},{"p":"HWFET","s":"RNN","x":1.24,"y":7},{"p":"HWFET","s":"RNN","x":1.32,"y":8},{"p":"HWFET","s":"RNN","x":1.4,"y":6},{"p":"HWFET","s":"RNN","x":1.48,"y":8},{"p":"HWFET","s":"RNN","x":1.56,"y":6.5},{"p":"HWFET","s":"RNN","x":1.64,"y":8.5},{"p":"HWFET","s":"RNN","x":1.72,"y":5.5},{"p":"HWFET","s":"RNN","x":1.8,"y":7},{"p":"HWFET","s":"RNN","x":1.88,"y":6},{"p":"HWFET","s":"RNN","x":1.96,"y":9},{"p":"HWFET","s":"RNN","x":2.04,"y":5},{"p":"HWFET","s":"RNN","x":2.12,"y":7},{"p":"HWFET","s":"RNN","x":2.2,"y":6},{"p":"HWFET","s":"RNN","x":2.28,"y":8},{"p":"HWFET","s":"RNN","x":2.36,"y":5.5},{"p":"HWFET","s":"RNN","x":2.44,"y":7.5},{"p":"HWFET","s":"RNN","x":2.52,"y":5},{"p":"HWFET","s":"RNN","x":2.6,"y":9},{"p":"HWFET","s":"RNN","x":2.68,"y":6},{"p":"HWFET","s":"RNN","x":2.76,"y":7},{"p":"HWFET","s":"RNN","x":2.84,"y":5},{"p":"HWFET","s":"RNN","x":2.92,"y":8},{"p":"HWFET","s":"RNN","x":3.0,"y":4.5},{"p":"HWFET","s":"RNN","x":3.08,"y":7},{"p":"HWFET","s":"RNN","x":3.16,"y":6},{"p":"HWFET","s":"RNN","x":3.24,"y":8},{"p":"HWFET","s":"RNN","x":3.32,"y":5},{"p":"HWFET","s":"RNN","x":3.4,"y":7.5},{"p":"HWFET","s":"RNN","x":3.48,"y":6},{"p":"HWFET","s":"RNN","x":3.56,"y":10},{"p":"HWFET","s":"RNN","x":3.64,"y":5.5},{"p":"HWFET","s":"RNN","x":3.72,"y":11},{"p":"HWFET","s":"RNN","x":3.8,"y":6},{"p":"HWFET","s":"RNN","x":3.88,"y":8.5},{"p":"HWFET","s":"RNN","x":3.96,"y":6},{"p":"HWFET","s":"RNN","x":4.04,"y":9},{"p":"HWFET","s":"RNN","x":4.12,"y":5},{"p":"HWFET","s":"RNN","x":4.2,"y":10},{"p":"HWFET","s":"RNN","x":4.28,"y":6},{"p":"HWFET","s":"RNN","x":4.36,"y":11},{"p":"HWFET","s":"RNN","x":4.44,"y":5},{"p":"HWFET","s":"RNN","x":4.52,"y":8},{"p":"HWFET","s":"RNN","x":4.6,"y":6},{"p":"HWFET","s":"RNN","x":4.68,"y":8},{"p":"HWFET","s":"RNN","x":4.76,"y":5},{"p":"HWFET","s":"RNN","x":4.84,"y":7},{"p":"HWFET","s":"RNN","x":4.92,"y":4},{"p":"HWFET","s":"RNN","x":5.0,"y":7},{"p":"HWFET","s":"RNN","x":5.08,"y":4.5},{"p":"HWFET","s":"RNN","x":5.16,"y":6},{"p":"HWFET","s":"RNN","x":5.24,"y":4},{"p":"HWFET","s":"RNN","x":5.32,"y":7},{"p":"HWFET","s":"RNN","x":5.4,"y":3.5},{"p":"HWFET","s":"RNN","x":5.48,"y":5},{"p":"HWFET","s":"RNN","x":5.56,"y":3},{"p":"HWFET","s":"RNN","x":5.64,"y":5.5},{"p":"HWFET","s":"RNN","x":5.72,"y":2.5},{"p":"HWFET","s":"RNN","x":5.8,"y":4},{"p":"HWFET","s":"RNN","x":5.88,"y":1.5},{"p":"HWFET","s":"RNN","x":5.96,"y":4},{"p":"HWFET","s":"RNN","x":6.04,"y":2},{"p":"HWFET","s":"RNN","x":6.12,"y":3},{"p":"HWFET","s":"RNN","x":6.2,"y":0.5},{"p":"HWFET","s":"RNN","x":6.28,"y":3},{"p":"HWFET","s":"RNN","x":6.36,"y":1},{"p":"HWFET","s":"RNN","x":6.44,"y":4},{"p":"HWFET","s":"RNN","x":6.52,"y":0.5},{"p":"HWFET","s":"RNN","x":6.6,"y":6},{"p":"HWFET","s":"RNN","x":6.68,"y":1},{"p":"HWFET","s":"RNN","x":6.76,"y":5},{"p":"HWFET","s":"RNN","x":6.84,"y":0.5},{"p":"HWFET","s":"RNN","x":6.92,"y":7},{"p":"HWFET","s":"RNN","x":7.0,"y":1},{"p":"HWFET","s":"RNN","x":7.06,"y":8},{"p":"HWFET","s":"RNN","x":7.12,"y":0.5},{"p":"HWFET","s":"RNN","x":7.2,"y":1.5},{"p":"HWFET","s":"RNN","x":7.28,"y":2},{"p":"HWFET","s":"RNN","x":7.35,"y":3},
      {"p":"HWFET","s":"GRU-RNN","x":0,"y":0.5},{"p":"HWFET","s":"GRU-RNN","x":0.5,"y":0.4},{"p":"HWFET","s":"GRU-RNN","x":1,"y":0.5},{"p":"HWFET","s":"GRU-RNN","x":1.5,"y":0.6},{"p":"HWFET","s":"GRU-RNN","x":2,"y":0.9},{"p":"HWFET","s":"GRU-RNN","x":2.5,"y":1.1},{"p":"HWFET","s":"GRU-RNN","x":3,"y":0.8},{"p":"HWFET","s":"GRU-RNN","x":3.5,"y":0.7},{"p":"HWFET","s":"GRU-RNN","x":4,"y":1.3},{"p":"HWFET","s":"GRU-RNN","x":4.5,"y":1.8},{"p":"HWFET","s":"GRU-RNN","x":4.8,"y":1.6},{"p":"HWFET","s":"GRU-RNN","x":5,"y":3},{"p":"HWFET","s":"GRU-RNN","x":5.2,"y":2.7},{"p":"HWFET","s":"GRU-RNN","x":5.5,"y":2.8},{"p":"HWFET","s":"GRU-RNN","x":5.8,"y":2.3},{"p":"HWFET","s":"GRU-RNN","x":6,"y":2.3},{"p":"HWFET","s":"GRU-RNN","x":6.2,"y":1.5},{"p":"HWFET","s":"GRU-RNN","x":6.5,"y":0.9},{"p":"HWFET","s":"GRU-RNN","x":6.8,"y":1.1},{"p":"HWFET","s":"GRU-RNN","x":7,"y":1.8},{"p":"HWFET","s":"GRU-RNN","x":7.2,"y":1.2},{"p":"HWFET","s":"GRU-RNN","x":7.35,"y":0.6},

      {"p":"LA92","s":"RNN","x":0,"y":10},{"p":"LA92","s":"RNN","x":0.1,"y":8},{"p":"LA92","s":"RNN","x":0.2,"y":12},{"p":"LA92","s":"RNN","x":0.3,"y":9},{"p":"LA92","s":"RNN","x":0.4,"y":11.5},{"p":"LA92","s":"RNN","x":0.5,"y":8.5},{"p":"LA92","s":"RNN","x":0.6,"y":10.5},{"p":"LA92","s":"RNN","x":0.7,"y":7.5},{"p":"LA92","s":"RNN","x":0.8,"y":12.5},{"p":"LA92","s":"RNN","x":0.9,"y":7},{"p":"LA92","s":"RNN","x":1.0,"y":9.5},{"p":"LA92","s":"RNN","x":1.1,"y":6.5},{"p":"LA92","s":"RNN","x":1.2,"y":9},{"p":"LA92","s":"RNN","x":1.3,"y":6},{"p":"LA92","s":"RNN","x":1.4,"y":9.5},{"p":"LA92","s":"RNN","x":1.5,"y":5.5},{"p":"LA92","s":"RNN","x":1.6,"y":8.5},{"p":"LA92","s":"RNN","x":1.7,"y":5},{"p":"LA92","s":"RNN","x":1.8,"y":8},{"p":"LA92","s":"RNN","x":1.9,"y":4.5},{"p":"LA92","s":"RNN","x":2.0,"y":7.5},{"p":"LA92","s":"RNN","x":2.1,"y":4},{"p":"LA92","s":"RNN","x":2.2,"y":7},{"p":"LA92","s":"RNN","x":2.3,"y":3.5},{"p":"LA92","s":"RNN","x":2.4,"y":8},{"p":"LA92","s":"RNN","x":2.5,"y":3},{"p":"LA92","s":"RNN","x":2.6,"y":9},{"p":"LA92","s":"RNN","x":2.7,"y":3.5},{"p":"LA92","s":"RNN","x":2.8,"y":6},{"p":"LA92","s":"RNN","x":2.9,"y":12},{"p":"LA92","s":"RNN","x":3.0,"y":3},{"p":"LA92","s":"RNN","x":3.1,"y":7},{"p":"LA92","s":"RNN","x":3.2,"y":2.5},{"p":"LA92","s":"RNN","x":3.3,"y":8},{"p":"LA92","s":"RNN","x":3.4,"y":3},{"p":"LA92","s":"RNN","x":3.5,"y":6.5},{"p":"LA92","s":"RNN","x":3.6,"y":2},{"p":"LA92","s":"RNN","x":3.7,"y":9},{"p":"LA92","s":"RNN","x":3.8,"y":3},{"p":"LA92","s":"RNN","x":3.9,"y":6},{"p":"LA92","s":"RNN","x":4.0,"y":2.5},{"p":"LA92","s":"RNN","x":4.1,"y":7},{"p":"LA92","s":"RNN","x":4.2,"y":2},{"p":"LA92","s":"RNN","x":4.3,"y":12},{"p":"LA92","s":"RNN","x":4.4,"y":3},{"p":"LA92","s":"RNN","x":4.5,"y":6},{"p":"LA92","s":"RNN","x":4.6,"y":2.5},{"p":"LA92","s":"RNN","x":4.7,"y":8},{"p":"LA92","s":"RNN","x":4.8,"y":2},{"p":"LA92","s":"RNN","x":4.9,"y":7},{"p":"LA92","s":"RNN","x":5.0,"y":3},{"p":"LA92","s":"RNN","x":5.1,"y":9},{"p":"LA92","s":"RNN","x":5.2,"y":2.5},{"p":"LA92","s":"RNN","x":5.3,"y":11},{"p":"LA92","s":"RNN","x":5.4,"y":2},{"p":"LA92","s":"RNN","x":5.5,"y":7},{"p":"LA92","s":"RNN","x":5.6,"y":3},{"p":"LA92","s":"RNN","x":5.7,"y":8.5},{"p":"LA92","s":"RNN","x":5.8,"y":2.5},{"p":"LA92","s":"RNN","x":5.9,"y":6},{"p":"LA92","s":"RNN","x":6.0,"y":10},{"p":"LA92","s":"RNN","x":6.1,"y":2},{"p":"LA92","s":"RNN","x":6.2,"y":7},{"p":"LA92","s":"RNN","x":6.3,"y":3},{"p":"LA92","s":"RNN","x":6.4,"y":8},{"p":"LA92","s":"RNN","x":6.5,"y":2.5},{"p":"LA92","s":"RNN","x":6.6,"y":6},{"p":"LA92","s":"RNN","x":6.7,"y":14.5},{"p":"LA92","s":"RNN","x":6.8,"y":3},{"p":"LA92","s":"RNN","x":6.9,"y":7},{"p":"LA92","s":"RNN","x":7.0,"y":2},{"p":"LA92","s":"RNN","x":7.1,"y":9},{"p":"LA92","s":"RNN","x":7.2,"y":2.5},{"p":"LA92","s":"RNN","x":7.3,"y":6},{"p":"LA92","s":"RNN","x":7.4,"y":11},{"p":"LA92","s":"RNN","x":7.5,"y":2},{"p":"LA92","s":"RNN","x":7.6,"y":7},{"p":"LA92","s":"RNN","x":7.7,"y":3},{"p":"LA92","s":"RNN","x":7.8,"y":15},{"p":"LA92","s":"RNN","x":7.9,"y":2.5},{"p":"LA92","s":"RNN","x":8.0,"y":8},{"p":"LA92","s":"RNN","x":8.1,"y":3},{"p":"LA92","s":"RNN","x":8.2,"y":9},{"p":"LA92","s":"RNN","x":8.3,"y":2},{"p":"LA92","s":"RNN","x":8.4,"y":6},{"p":"LA92","s":"RNN","x":8.5,"y":8},{"p":"LA92","s":"RNN","x":8.6,"y":2.5},{"p":"LA92","s":"RNN","x":8.7,"y":7},{"p":"LA92","s":"RNN","x":8.8,"y":3},{"p":"LA92","s":"RNN","x":8.9,"y":13},{"p":"LA92","s":"RNN","x":9.0,"y":2},{"p":"LA92","s":"RNN","x":9.1,"y":6},{"p":"LA92","s":"RNN","x":9.2,"y":7.5},{"p":"LA92","s":"RNN","x":9.3,"y":2},{"p":"LA92","s":"RNN","x":9.4,"y":6},{"p":"LA92","s":"RNN","x":9.5,"y":2.5},{"p":"LA92","s":"RNN","x":9.6,"y":10},{"p":"LA92","s":"RNN","x":9.7,"y":2},{"p":"LA92","s":"RNN","x":9.8,"y":6},{"p":"LA92","s":"RNN","x":9.9,"y":2.5},{"p":"LA92","s":"RNN","x":10.0,"y":7},{"p":"LA92","s":"RNN","x":10.1,"y":1.5},{"p":"LA92","s":"RNN","x":10.2,"y":5},{"p":"LA92","s":"RNN","x":10.3,"y":2},{"p":"LA92","s":"RNN","x":10.4,"y":8},{"p":"LA92","s":"RNN","x":10.5,"y":1.5},{"p":"LA92","s":"RNN","x":10.6,"y":5},{"p":"LA92","s":"RNN","x":10.7,"y":2},{"p":"LA92","s":"RNN","x":10.8,"y":10},{"p":"LA92","s":"RNN","x":10.9,"y":1.5},{"p":"LA92","s":"RNN","x":11.0,"y":5},{"p":"LA92","s":"RNN","x":11.1,"y":2},{"p":"LA92","s":"RNN","x":11.2,"y":6},{"p":"LA92","s":"RNN","x":11.3,"y":1.5},{"p":"LA92","s":"RNN","x":11.4,"y":4},{"p":"LA92","s":"RNN","x":11.5,"y":2},{"p":"LA92","s":"RNN","x":11.6,"y":5},{"p":"LA92","s":"RNN","x":11.7,"y":1.5},{"p":"LA92","s":"RNN","x":11.8,"y":4},{"p":"LA92","s":"RNN","x":11.9,"y":2},{"p":"LA92","s":"RNN","x":12.0,"y":6},{"p":"LA92","s":"RNN","x":12.1,"y":1.5},{"p":"LA92","s":"RNN","x":12.2,"y":4},{"p":"LA92","s":"RNN","x":12.3,"y":2},{"p":"LA92","s":"RNN","x":12.4,"y":5},{"p":"LA92","s":"RNN","x":12.5,"y":1.5},{"p":"LA92","s":"RNN","x":12.6,"y":4},{"p":"LA92","s":"RNN","x":12.7,"y":2},{"p":"LA92","s":"RNN","x":12.8,"y":5.5},{"p":"LA92","s":"RNN","x":12.9,"y":2},{"p":"LA92","s":"RNN","x":13.0,"y":4},{"p":"LA92","s":"RNN","x":13.1,"y":2},{"p":"LA92","s":"RNN","x":13.2,"y":6},{"p":"LA92","s":"RNN","x":13.3,"y":9.5},{"p":"LA92","s":"RNN","x":13.4,"y":2},{"p":"LA92","s":"RNN","x":13.5,"y":5},{"p":"LA92","s":"RNN","x":13.6,"y":2.5},{"p":"LA92","s":"RNN","x":13.7,"y":3},
      {"p":"LA92","s":"GRU-RNN","x":0,"y":0.8},{"p":"LA92","s":"GRU-RNN","x":0.5,"y":1},{"p":"LA92","s":"GRU-RNN","x":1,"y":0.7},{"p":"LA92","s":"GRU-RNN","x":1.5,"y":1},{"p":"LA92","s":"GRU-RNN","x":2,"y":0.6},{"p":"LA92","s":"GRU-RNN","x":2.5,"y":0.9},{"p":"LA92","s":"GRU-RNN","x":3,"y":0.7},{"p":"LA92","s":"GRU-RNN","x":3.5,"y":1},{"p":"LA92","s":"GRU-RNN","x":4,"y":0.8},{"p":"LA92","s":"GRU-RNN","x":4.5,"y":1.1},{"p":"LA92","s":"GRU-RNN","x":5,"y":1},{"p":"LA92","s":"GRU-RNN","x":5.5,"y":1.6},{"p":"LA92","s":"GRU-RNN","x":6,"y":1},{"p":"LA92","s":"GRU-RNN","x":6.5,"y":0.8},{"p":"LA92","s":"GRU-RNN","x":7,"y":1.1},{"p":"LA92","s":"GRU-RNN","x":7.5,"y":0.9},{"p":"LA92","s":"GRU-RNN","x":8,"y":0.7},{"p":"LA92","s":"GRU-RNN","x":8.5,"y":1},{"p":"LA92","s":"GRU-RNN","x":9,"y":0.8},{"p":"LA92","s":"GRU-RNN","x":9.5,"y":1.2},{"p":"LA92","s":"GRU-RNN","x":10,"y":0.8},{"p":"LA92","s":"GRU-RNN","x":10.5,"y":1},{"p":"LA92","s":"GRU-RNN","x":11,"y":0.7},{"p":"LA92","s":"GRU-RNN","x":11.5,"y":1},{"p":"LA92","s":"GRU-RNN","x":12,"y":0.8},{"p":"LA92","s":"GRU-RNN","x":12.5,"y":1.1},{"p":"LA92","s":"GRU-RNN","x":13,"y":0.9},{"p":"LA92","s":"GRU-RNN","x":13.7,"y":1},

      {"p":"UDDS","s":"RNN","x":0,"y":10},{"p":"UDDS","s":"RNN","x":0.02,"y":8.5},{"p":"UDDS","s":"RNN","x":0.04,"y":11},{"p":"UDDS","s":"RNN","x":0.06,"y":9},{"p":"UDDS","s":"RNN","x":0.08,"y":10},{"p":"UDDS","s":"RNN","x":0.1,"y":8},{"p":"UDDS","s":"RNN","x":0.12,"y":9.5},{"p":"UDDS","s":"RNN","x":0.14,"y":7.5},{"p":"UDDS","s":"RNN","x":0.16,"y":9},{"p":"UDDS","s":"RNN","x":0.18,"y":7},{"p":"UDDS","s":"RNN","x":0.2,"y":8.5},{"p":"UDDS","s":"RNN","x":0.22,"y":6.5},{"p":"UDDS","s":"RNN","x":0.25,"y":8},{"p":"UDDS","s":"RNN","x":0.28,"y":6},{"p":"UDDS","s":"RNN","x":0.31,"y":7.5},{"p":"UDDS","s":"RNN","x":0.34,"y":5.5},{"p":"UDDS","s":"RNN","x":0.37,"y":7},{"p":"UDDS","s":"RNN","x":0.4,"y":5},{"p":"UDDS","s":"RNN","x":0.43,"y":6.5},{"p":"UDDS","s":"RNN","x":0.46,"y":4.5},{"p":"UDDS","s":"RNN","x":0.5,"y":6},{"p":"UDDS","s":"RNN","x":0.53,"y":3.5},{"p":"UDDS","s":"RNN","x":0.56,"y":6.5},{"p":"UDDS","s":"RNN","x":0.59,"y":3},{"p":"UDDS","s":"RNN","x":0.62,"y":6},{"p":"UDDS","s":"RNN","x":0.65,"y":2.5},{"p":"UDDS","s":"RNN","x":0.68,"y":7},{"p":"UDDS","s":"RNN","x":0.71,"y":2.5},{"p":"UDDS","s":"RNN","x":0.74,"y":5.5},{"p":"UDDS","s":"RNN","x":0.77,"y":2.5},{"p":"UDDS","s":"RNN","x":0.8,"y":6},{"p":"UDDS","s":"RNN","x":0.83,"y":2},{"p":"UDDS","s":"RNN","x":0.86,"y":6.5},{"p":"UDDS","s":"RNN","x":0.89,"y":2.5},{"p":"UDDS","s":"RNN","x":0.92,"y":5},{"p":"UDDS","s":"RNN","x":0.95,"y":2},{"p":"UDDS","s":"RNN","x":0.98,"y":6},{"p":"UDDS","s":"RNN","x":1.01,"y":2.5},{"p":"UDDS","s":"RNN","x":1.04,"y":6.5},{"p":"UDDS","s":"RNN","x":1.07,"y":2},{"p":"UDDS","s":"RNN","x":1.1,"y":6},{"p":"UDDS","s":"RNN","x":1.13,"y":2.5},{"p":"UDDS","s":"RNN","x":1.16,"y":6.5},{"p":"UDDS","s":"RNN","x":1.19,"y":2},{"p":"UDDS","s":"RNN","x":1.22,"y":6},{"p":"UDDS","s":"RNN","x":1.25,"y":2},{"p":"UDDS","s":"RNN","x":1.28,"y":5},{"p":"UDDS","s":"RNN","x":1.31,"y":2.5},{"p":"UDDS","s":"RNN","x":1.34,"y":5.5},{"p":"UDDS","s":"RNN","x":1.37,"y":2},{"p":"UDDS","s":"RNN","x":1.4,"y":4.5},{"p":"UDDS","s":"RNN","x":1.43,"y":1.5},{"p":"UDDS","s":"RNN","x":1.46,"y":5},{"p":"UDDS","s":"RNN","x":1.49,"y":1},{"p":"UDDS","s":"RNN","x":1.52,"y":0.5},{"p":"UDDS","s":"RNN","x":1.55,"y":2},{"p":"UDDS","s":"RNN","x":1.58,"y":1},{"p":"UDDS","s":"RNN","x":1.61,"y":3},{"p":"UDDS","s":"RNN","x":1.64,"y":1},{"p":"UDDS","s":"RNN","x":1.67,"y":3.5},{"p":"UDDS","s":"RNN","x":1.7,"y":1.5},{"p":"UDDS","s":"RNN","x":1.73,"y":4},{"p":"UDDS","s":"RNN","x":1.76,"y":1.5},{"p":"UDDS","s":"RNN","x":1.79,"y":3.5},{"p":"UDDS","s":"RNN","x":1.82,"y":1.5},{"p":"UDDS","s":"RNN","x":1.85,"y":4},{"p":"UDDS","s":"RNN","x":1.88,"y":1},{"p":"UDDS","s":"RNN","x":1.91,"y":3.5},{"p":"UDDS","s":"RNN","x":1.94,"y":1.5},{"p":"UDDS","s":"RNN","x":1.97,"y":4},{"p":"UDDS","s":"RNN","x":2.0,"y":1.5},{"p":"UDDS","s":"RNN","x":2.03,"y":4.5},{"p":"UDDS","s":"RNN","x":2.06,"y":1.5},{"p":"UDDS","s":"RNN","x":2.09,"y":5},{"p":"UDDS","s":"RNN","x":2.12,"y":2},{"p":"UDDS","s":"RNN","x":2.15,"y":6},{"p":"UDDS","s":"RNN","x":2.17,"y":2},{"p":"UDDS","s":"RNN","x":2.19,"y":7},{"p":"UDDS","s":"RNN","x":2.2,"y":3},{"p":"UDDS","s":"RNN","x":2.21,"y":5.5},
      {"p":"UDDS","s":"GRU-RNN","x":0,"y":0.5},{"p":"UDDS","s":"GRU-RNN","x":0.1,"y":0.6},{"p":"UDDS","s":"GRU-RNN","x":0.2,"y":0.6},{"p":"UDDS","s":"GRU-RNN","x":0.3,"y":0.9},{"p":"UDDS","s":"GRU-RNN","x":0.4,"y":1.1},{"p":"UDDS","s":"GRU-RNN","x":0.5,"y":1.3},{"p":"UDDS","s":"GRU-RNN","x":0.6,"y":1.6},{"p":"UDDS","s":"GRU-RNN","x":0.7,"y":1.4},{"p":"UDDS","s":"GRU-RNN","x":0.8,"y":1.2},{"p":"UDDS","s":"GRU-RNN","x":0.9,"y":1.6},{"p":"UDDS","s":"GRU-RNN","x":0.95,"y":2.2},{"p":"UDDS","s":"GRU-RNN","x":1.0,"y":1.5},{"p":"UDDS","s":"GRU-RNN","x":1.1,"y":1.0},{"p":"UDDS","s":"GRU-RNN","x":1.2,"y":1.3},{"p":"UDDS","s":"GRU-RNN","x":1.3,"y":1.4},{"p":"UDDS","s":"GRU-RNN","x":1.4,"y":1.0},{"p":"UDDS","s":"GRU-RNN","x":1.5,"y":1.2},{"p":"UDDS","s":"GRU-RNN","x":1.6,"y":1.0},{"p":"UDDS","s":"GRU-RNN","x":1.7,"y":1.4},{"p":"UDDS","s":"GRU-RNN","x":1.8,"y":1.8},{"p":"UDDS","s":"GRU-RNN","x":1.9,"y":2.0},{"p":"UDDS","s":"GRU-RNN","x":2.0,"y":1.7},{"p":"UDDS","s":"GRU-RNN","x":2.1,"y":2.2},{"p":"UDDS","s":"GRU-RNN","x":2.15,"y":1.2},{"p":"UDDS","s":"GRU-RNN","x":2.2,"y":2.0},

      {"p":"US06","s":"RNN","x":0,"y":11},{"p":"US06","s":"RNN","x":0.04,"y":13},{"p":"US06","s":"RNN","x":0.08,"y":10},{"p":"US06","s":"RNN","x":0.12,"y":13},{"p":"US06","s":"RNN","x":0.16,"y":9},{"p":"US06","s":"RNN","x":0.2,"y":12},{"p":"US06","s":"RNN","x":0.24,"y":8},{"p":"US06","s":"RNN","x":0.28,"y":14},{"p":"US06","s":"RNN","x":0.32,"y":7},{"p":"US06","s":"RNN","x":0.35,"y":16},{"p":"US06","s":"RNN","x":0.38,"y":8},{"p":"US06","s":"RNN","x":0.42,"y":12},{"p":"US06","s":"RNN","x":0.46,"y":6},{"p":"US06","s":"RNN","x":0.5,"y":13},{"p":"US06","s":"RNN","x":0.54,"y":5},{"p":"US06","s":"RNN","x":0.58,"y":11},{"p":"US06","s":"RNN","x":0.62,"y":7},{"p":"US06","s":"RNN","x":0.66,"y":14},{"p":"US06","s":"RNN","x":0.7,"y":4},{"p":"US06","s":"RNN","x":0.74,"y":12},{"p":"US06","s":"RNN","x":0.78,"y":6},{"p":"US06","s":"RNN","x":0.82,"y":15},{"p":"US06","s":"RNN","x":0.86,"y":5},{"p":"US06","s":"RNN","x":0.9,"y":11},{"p":"US06","s":"RNN","x":0.94,"y":3},{"p":"US06","s":"RNN","x":0.98,"y":16},{"p":"US06","s":"RNN","x":1.02,"y":5},{"p":"US06","s":"RNN","x":1.06,"y":12},{"p":"US06","s":"RNN","x":1.1,"y":7},{"p":"US06","s":"RNN","x":1.14,"y":14},{"p":"US06","s":"RNN","x":1.18,"y":4},{"p":"US06","s":"RNN","x":1.22,"y":11},{"p":"US06","s":"RNN","x":1.26,"y":2},{"p":"US06","s":"RNN","x":1.3,"y":13},{"p":"US06","s":"RNN","x":1.34,"y":0.5},{"p":"US06","s":"RNN","x":1.38,"y":12},{"p":"US06","s":"RNN","x":1.42,"y":6},{"p":"US06","s":"RNN","x":1.46,"y":15},{"p":"US06","s":"RNN","x":1.5,"y":4},{"p":"US06","s":"RNN","x":1.54,"y":11},{"p":"US06","s":"RNN","x":1.58,"y":7},{"p":"US06","s":"RNN","x":1.62,"y":14},{"p":"US06","s":"RNN","x":1.66,"y":1},{"p":"US06","s":"RNN","x":1.7,"y":10},{"p":"US06","s":"RNN","x":1.74,"y":5},{"p":"US06","s":"RNN","x":1.78,"y":13},{"p":"US06","s":"RNN","x":1.82,"y":3},{"p":"US06","s":"RNN","x":1.86,"y":12},{"p":"US06","s":"RNN","x":1.9,"y":6},{"p":"US06","s":"RNN","x":1.94,"y":19},{"p":"US06","s":"RNN","x":1.98,"y":4},{"p":"US06","s":"RNN","x":2.02,"y":14},{"p":"US06","s":"RNN","x":2.06,"y":7},{"p":"US06","s":"RNN","x":2.1,"y":12},{"p":"US06","s":"RNN","x":2.14,"y":3},{"p":"US06","s":"RNN","x":2.18,"y":18},{"p":"US06","s":"RNN","x":2.22,"y":6},{"p":"US06","s":"RNN","x":2.26,"y":13},{"p":"US06","s":"RNN","x":2.3,"y":1},{"p":"US06","s":"RNN","x":2.34,"y":15},{"p":"US06","s":"RNN","x":2.38,"y":5},{"p":"US06","s":"RNN","x":2.42,"y":12},{"p":"US06","s":"RNN","x":2.46,"y":8},{"p":"US06","s":"RNN","x":2.5,"y":17},{"p":"US06","s":"RNN","x":2.54,"y":6},{"p":"US06","s":"RNN","x":2.58,"y":21},{"p":"US06","s":"RNN","x":2.62,"y":4},{"p":"US06","s":"RNN","x":2.66,"y":15},{"p":"US06","s":"RNN","x":2.7,"y":1},{"p":"US06","s":"RNN","x":2.74,"y":14},{"p":"US06","s":"RNN","x":2.78,"y":7},{"p":"US06","s":"RNN","x":2.82,"y":12},{"p":"US06","s":"RNN","x":2.86,"y":17},{"p":"US06","s":"RNN","x":2.9,"y":2},{"p":"US06","s":"RNN","x":2.94,"y":14},{"p":"US06","s":"RNN","x":2.98,"y":6},{"p":"US06","s":"RNN","x":3.02,"y":15},{"p":"US06","s":"RNN","x":3.06,"y":4},{"p":"US06","s":"RNN","x":3.1,"y":12},{"p":"US06","s":"RNN","x":3.14,"y":7},{"p":"US06","s":"RNN","x":3.18,"y":11},{"p":"US06","s":"RNN","x":3.22,"y":3},{"p":"US06","s":"RNN","x":3.26,"y":13},{"p":"US06","s":"RNN","x":3.3,"y":5},{"p":"US06","s":"RNN","x":3.34,"y":10},{"p":"US06","s":"RNN","x":3.38,"y":0.5},{"p":"US06","s":"RNN","x":3.42,"y":13},{"p":"US06","s":"RNN","x":3.46,"y":4},{"p":"US06","s":"RNN","x":3.5,"y":11},{"p":"US06","s":"RNN","x":3.54,"y":6},{"p":"US06","s":"RNN","x":3.58,"y":9},{"p":"US06","s":"RNN","x":3.62,"y":2},{"p":"US06","s":"RNN","x":3.66,"y":10},{"p":"US06","s":"RNN","x":3.7,"y":1},{"p":"US06","s":"RNN","x":3.74,"y":9},{"p":"US06","s":"RNN","x":3.78,"y":4},{"p":"US06","s":"RNN","x":3.82,"y":11},{"p":"US06","s":"RNN","x":3.86,"y":2},{"p":"US06","s":"RNN","x":3.9,"y":9},{"p":"US06","s":"RNN","x":3.94,"y":4},{"p":"US06","s":"RNN","x":3.98,"y":12},{"p":"US06","s":"RNN","x":4.02,"y":1},{"p":"US06","s":"RNN","x":4.06,"y":9},{"p":"US06","s":"RNN","x":4.1,"y":3},{"p":"US06","s":"RNN","x":4.14,"y":10},{"p":"US06","s":"RNN","x":4.18,"y":5},{"p":"US06","s":"RNN","x":4.22,"y":8},{"p":"US06","s":"RNN","x":4.26,"y":2},{"p":"US06","s":"RNN","x":4.3,"y":10},{"p":"US06","s":"RNN","x":4.34,"y":4},{"p":"US06","s":"RNN","x":4.36,"y":1},{"p":"US06","s":"RNN","x":4.45,"y":1.5},{"p":"US06","s":"RNN","x":4.6,"y":2},
      {"p":"US06","s":"GRU-RNN","x":0,"y":0.8},{"p":"US06","s":"GRU-RNN","x":0.2,"y":1},{"p":"US06","s":"GRU-RNN","x":0.4,"y":0.7},{"p":"US06","s":"GRU-RNN","x":0.6,"y":1},{"p":"US06","s":"GRU-RNN","x":0.8,"y":0.6},{"p":"US06","s":"GRU-RNN","x":1.0,"y":1},{"p":"US06","s":"GRU-RNN","x":1.2,"y":0.8},{"p":"US06","s":"GRU-RNN","x":1.4,"y":1},{"p":"US06","s":"GRU-RNN","x":1.6,"y":0.9},{"p":"US06","s":"GRU-RNN","x":1.8,"y":1.2},{"p":"US06","s":"GRU-RNN","x":1.9,"y":1},{"p":"US06","s":"GRU-RNN","x":2.0,"y":1.8},{"p":"US06","s":"GRU-RNN","x":2.1,"y":1.3},{"p":"US06","s":"GRU-RNN","x":2.2,"y":2},{"p":"US06","s":"GRU-RNN","x":2.3,"y":1.5},{"p":"US06","s":"GRU-RNN","x":2.4,"y":2.2},{"p":"US06","s":"GRU-RNN","x":2.5,"y":1.8},{"p":"US06","s":"GRU-RNN","x":2.6,"y":3},{"p":"US06","s":"GRU-RNN","x":2.7,"y":2.2},{"p":"US06","s":"GRU-RNN","x":2.8,"y":2},{"p":"US06","s":"GRU-RNN","x":2.9,"y":1.2},{"p":"US06","s":"GRU-RNN","x":3.0,"y":1.5},{"p":"US06","s":"GRU-RNN","x":3.1,"y":2},{"p":"US06","s":"GRU-RNN","x":3.2,"y":2.3},{"p":"US06","s":"GRU-RNN","x":3.3,"y":3},{"p":"US06","s":"GRU-RNN","x":3.4,"y":2.5},{"p":"US06","s":"GRU-RNN","x":3.5,"y":1.8},{"p":"US06","s":"GRU-RNN","x":3.6,"y":1.2},{"p":"US06","s":"GRU-RNN","x":3.7,"y":1},{"p":"US06","s":"GRU-RNN","x":3.8,"y":1.1},{"p":"US06","s":"GRU-RNN","x":4.0,"y":0.9},{"p":"US06","s":"GRU-RNN","x":4.2,"y":1},{"p":"US06","s":"GRU-RNN","x":4.4,"y":0.8},{"p":"US06","s":"GRU-RNN","x":4.6,"y":1}
    ]
  },
  "columns": 4,
  "bounds": "flush",
  "align": "all",
  "spacing": {"row": 75, "column": 59},
  "concat": [
    {"title": "HWFET", "width": 203, "height": 92, "data": {"name": "soc"}, "transform": [{"filter": "datum.p === 'HWFET'"}],
     "layer": [
       {"mark": "line", "encoding": {"x": {"field": "x", "type": "quantitative", "scale": {"domain": [0, 8], "nice": false}, "axis": {"values": [0, 2, 4, 6, 8], "title": "Time/0.1s\u2003\u2002\u00d7 10\u2074"}},
                  "y": {"field": "y", "type": "quantitative", "scale": {"domain": [0, 100], "nice": false}, "axis": {"values": [0, 50, 100], "title": "SOC/ %"}},
                  "color": {"field": "s", "type": "nominal", "scale": {"domain": ["RNN", "GRU-RNN", "Measured"], "range": ["#0000ff", "#ff0000", "#7e2f8e"]}}}},
       {"mark": {"type": "line", "opacity": 0}, "encoding": {"x": {"field": "x", "type": "quantitative", "scale": {"domain": [0, 8], "nice": false}, "axis": {"orient": "top", "values": [0, 2, 4, 6, 8], "labels": false, "title": null}},
                  "y": {"field": "y", "type": "quantitative", "scale": {"domain": [0, 100], "nice": false}, "axis": {"orient": "right", "values": [0, 50, 100], "labels": false, "title": null}}}}
     ], "resolve": {"axis": {"x": "independent", "y": "independent"}}},
    {"title": "LA92", "width": 203, "height": 92, "data": {"name": "soc"}, "transform": [{"filter": "datum.p === 'LA92'"}],
     "layer": [
       {"mark": "line", "encoding": {"x": {"field": "x", "type": "quantitative", "scale": {"domain": [0, 15], "nice": false}, "axis": {"values": [0, 5, 10, 15], "title": "Time/0.1s\u2003\u2002\u00d7 10\u2074"}},
                  "y": {"field": "y", "type": "quantitative", "scale": {"domain": [0, 100], "nice": false}, "axis": {"values": [0, 50, 100], "title": "SOC/ %"}},
                  "color": {"field": "s", "type": "nominal", "scale": {"domain": ["RNN", "GRU-RNN", "Measured"], "range": ["#0000ff", "#ff0000", "#7e2f8e"]}}}},
       {"mark": {"type": "line", "opacity": 0}, "encoding": {"x": {"field": "x", "type": "quantitative", "scale": {"domain": [0, 15], "nice": false}, "axis": {"orient": "top", "values": [0, 5, 10, 15], "labels": false, "title": null}},
                  "y": {"field": "y", "type": "quantitative", "scale": {"domain": [0, 100], "nice": false}, "axis": {"orient": "right", "values": [0, 50, 100], "labels": false, "title": null}}}}
     ], "resolve": {"axis": {"x": "independent", "y": "independent"}}},
    {"title": "UDDS", "width": 203, "height": 92, "data": {"name": "soc"}, "transform": [{"filter": "datum.p === 'UDDS'"}],
     "layer": [
       {"mark": "line", "encoding": {"x": {"field": "x", "type": "quantitative", "scale": {"domain": [0, 2.5], "nice": false}, "axis": {"values": [0, 0.5, 1, 1.5, 2, 2.5], "title": "Time/0.1s\u2003\u2002\u00d7 10\u2075"}},
                  "y": {"field": "y", "type": "quantitative", "scale": {"domain": [0, 100], "nice": false}, "axis": {"values": [0, 50, 100], "title": "SOC/ %"}},
                  "color": {"field": "s", "type": "nominal", "scale": {"domain": ["RNN", "GRU-RNN", "Measured"], "range": ["#0000ff", "#ff0000", "#7e2f8e"]}}}},
       {"mark": {"type": "line", "opacity": 0}, "encoding": {"x": {"field": "x", "type": "quantitative", "scale": {"domain": [0, 2.5], "nice": false}, "axis": {"orient": "top", "values": [0, 0.5, 1, 1.5, 2, 2.5], "labels": false, "title": null}},
                  "y": {"field": "y", "type": "quantitative", "scale": {"domain": [0, 100], "nice": false}, "axis": {"orient": "right", "values": [0, 50, 100], "labels": false, "title": null}}}}
     ], "resolve": {"axis": {"x": "independent", "y": "independent"}}},
    {"title": "US06", "width": 203, "height": 92, "data": {"name": "soc"}, "transform": [{"filter": "datum.p === 'US06'"}],
     "layer": [
       {"mark": "line", "encoding": {"x": {"field": "x", "type": "quantitative", "scale": {"domain": [0, 5], "nice": false}, "axis": {"values": [0, 1, 2, 3, 4, 5], "title": "Time/0.1s\u2003\u2002\u00d7 10\u2074"}},
                  "y": {"field": "y", "type": "quantitative", "scale": {"domain": [0, 100], "nice": false}, "axis": {"values": [0, 50, 100], "title": "SOC/ %"}},
                  "color": {"field": "s", "type": "nominal", "scale": {"domain": ["RNN", "GRU-RNN", "Measured"], "range": ["#0000ff", "#ff0000", "#7e2f8e"]}}}},
       {"mark": {"type": "line", "opacity": 0}, "encoding": {"x": {"field": "x", "type": "quantitative", "scale": {"domain": [0, 5], "nice": false}, "axis": {"orient": "top", "values": [0, 1, 2, 3, 4, 5], "labels": false, "title": null}},
                  "y": {"field": "y", "type": "quantitative", "scale": {"domain": [0, 100], "nice": false}, "axis": {"orient": "right", "values": [0, 50, 100], "labels": false, "title": null}}}}
     ], "resolve": {"axis": {"x": "independent", "y": "independent"}}},
    {"title": "HWFET", "width": 203, "height": 92, "data": {"name": "err"}, "transform": [{"filter": "datum.p === 'HWFET'"}],
     "layer": [
       {"mark": "line", "encoding": {"x": {"field": "x", "type": "quantitative", "scale": {"domain": [0, 8], "nice": false}, "axis": {"values": [0, 2, 4, 6, 8], "title": "Time/0.1s\u2003\u2002\u00d7 10\u2074"}},
                  "y": {"field": "y", "type": "quantitative", "scale": {"domain": [0, 40], "nice": false}, "axis": {"values": [0, 20, 40], "title": "SOC error/ %"}},
                  "color": {"field": "s", "type": "nominal", "scale": {"domain": ["RNN", "GRU-RNN", "Measured"], "range": ["#0000ff", "#ff0000", "#7e2f8e"]}}}},
       {"mark": {"type": "line", "opacity": 0}, "encoding": {"x": {"field": "x", "type": "quantitative", "scale": {"domain": [0, 8], "nice": false}, "axis": {"orient": "top", "values": [0, 2, 4, 6, 8], "labels": false, "title": null}},
                  "y": {"field": "y", "type": "quantitative", "scale": {"domain": [0, 40], "nice": false}, "axis": {"orient": "right", "values": [0, 20, 40], "labels": false, "title": null}}}}
     ], "resolve": {"axis": {"x": "independent", "y": "independent"}}},
    {"title": "LA92", "width": 203, "height": 92, "data": {"name": "err"}, "transform": [{"filter": "datum.p === 'LA92'"}],
     "layer": [
       {"mark": "line", "encoding": {"x": {"field": "x", "type": "quantitative", "scale": {"domain": [0, 15], "nice": false}, "axis": {"values": [0, 5, 10, 15], "title": "Time/0.1s\u2003\u2002\u00d7 10\u2074"}},
                  "y": {"field": "y", "type": "quantitative", "scale": {"domain": [0, 40], "nice": false}, "axis": {"values": [0, 20, 40], "title": "SOC error/ %"}},
                  "color": {"field": "s", "type": "nominal", "scale": {"domain": ["RNN", "GRU-RNN", "Measured"], "range": ["#0000ff", "#ff0000", "#7e2f8e"]}}}},
       {"mark": {"type": "line", "opacity": 0}, "encoding": {"x": {"field": "x", "type": "quantitative", "scale": {"domain": [0, 15], "nice": false}, "axis": {"orient": "top", "values": [0, 5, 10, 15], "labels": false, "title": null}},
                  "y": {"field": "y", "type": "quantitative", "scale": {"domain": [0, 40], "nice": false}, "axis": {"orient": "right", "values": [0, 20, 40], "labels": false, "title": null}}}}
     ], "resolve": {"axis": {"x": "independent", "y": "independent"}}},
    {"title": "UDDS", "width": 203, "height": 92, "data": {"name": "err"}, "transform": [{"filter": "datum.p === 'UDDS'"}],
     "layer": [
       {"mark": "line", "encoding": {"x": {"field": "x", "type": "quantitative", "scale": {"domain": [0, 2.5], "nice": false}, "axis": {"values": [0, 0.5, 1, 1.5, 2, 2.5], "title": "Time/0.1s\u2003\u2002\u00d7 10\u2075"}},
                  "y": {"field": "y", "type": "quantitative", "scale": {"domain": [0, 40], "nice": false}, "axis": {"values": [0, 20, 40], "title": "SOC error/ %"}},
                  "color": {"field": "s", "type": "nominal", "scale": {"domain": ["RNN", "GRU-RNN", "Measured"], "range": ["#0000ff", "#ff0000", "#7e2f8e"]}}}},
       {"mark": {"type": "line", "opacity": 0}, "encoding": {"x": {"field": "x", "type": "quantitative", "scale": {"domain": [0, 2.5], "nice": false}, "axis": {"orient": "top", "values": [0, 0.5, 1, 1.5, 2, 2.5], "labels": false, "title": null}},
                  "y": {"field": "y", "type": "quantitative", "scale": {"domain": [0, 40], "nice": false}, "axis": {"orient": "right", "values": [0, 20, 40], "labels": false, "title": null}}}}
     ], "resolve": {"axis": {"x": "independent", "y": "independent"}}},
    {"title": "US06", "width": 203, "height": 92, "data": {"name": "err"}, "transform": [{"filter": "datum.p === 'US06'"}],
     "layer": [
       {"mark": "line", "encoding": {"x": {"field": "x", "type": "quantitative", "scale": {"domain": [0, 5], "nice": false}, "axis": {"values": [0, 1, 2, 3, 4, 5], "title": "Time/0.1s\u2003\u2002\u00d7 10\u2074"}},
                  "y": {"field": "y", "type": "quantitative", "scale": {"domain": [0, 40], "nice": false}, "axis": {"values": [0, 20, 40], "title": "SOC error/ %"}},
                  "color": {"field": "s", "type": "nominal", "scale": {"domain": ["RNN", "GRU-RNN", "Measured"], "range": ["#0000ff", "#ff0000", "#7e2f8e"]}}}},
       {"mark": {"type": "line", "opacity": 0}, "encoding": {"x": {"field": "x", "type": "quantitative", "scale": {"domain": [0, 5], "nice": false}, "axis": {"orient": "top", "values": [0, 1, 2, 3, 4, 5], "labels": false, "title": null}},
                  "y": {"field": "y", "type": "quantitative", "scale": {"domain": [0, 40], "nice": false}, "axis": {"orient": "right", "values": [0, 20, 40], "labels": false, "title": null}}}}
     ], "resolve": {"axis": {"x": "independent", "y": "independent"}}}
  ]
}
